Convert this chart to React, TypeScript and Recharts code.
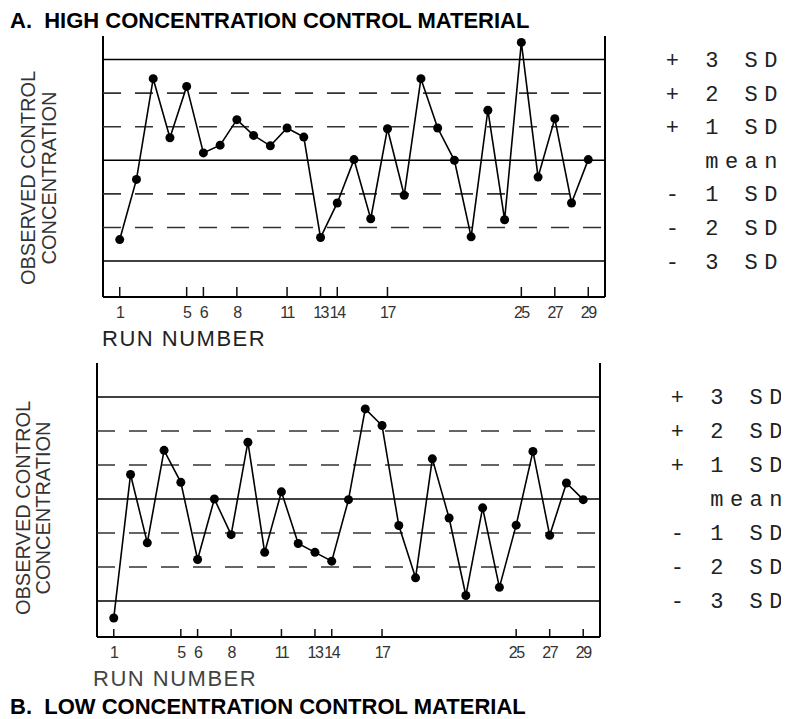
import React from 'react';
import { LineChart, Line, XAxis, YAxis, ReferenceLine } from 'recharts';

// run numbers and observed values (in SD units from the mean)
const runs = [1, 2, 3, 4, 5, 6, 7, 8, 9, 10, 11, 12, 13, 14, 15, 16, 17, 18, 19, 20, 21, 22, 23, 24, 25, 26, 27, 28, 29];
const highValues = [
  -2.36, -0.57, 2.43, 0.67, 2.2, 0.22, 0.45, 1.21, 0.74, 0.43, 0.96, 0.69, -2.3, -1.27, 0.02,
  -1.74, 0.94, -1.04, 2.43, 0.96, 0.0, -2.28, 1.49, -1.77, 3.51, -0.5, 1.24, -1.27, 0.02,
];
const lowValues = [
  -3.5, 0.72, -1.29, 1.43, 0.49, -1.78, 0.0, -1.05, 1.67, -1.57, 0.21, -1.31, -1.57, -1.83, -0.02,
  2.65, 2.16, -0.78, -2.32, 1.18, -0.56, -2.84, -0.26, -2.6, -0.77, 1.4, -1.07, 0.47, -0.02,
];
const tickRuns = [1, 5, 6, 8, 11, 13, 14, 17, 25, 27, 29];
const sdLevels = [3, 2, 1, 0, -1, -2, -3];
const sdLabels = ['+ 3 SD', '+ 2 SD', '+ 1 SD', 'mean', '- 1 SD', '- 2 SD', '- 3 SD'];

const SANS = "'Liberation Sans', Arial, sans-serif";

function RunTick(props: any) {
  const { x, y, payload, tickLen } = props;
  return (
    <g>
      <line x1={x} x2={x} y1={y - tickLen} y2={y} stroke="#111" strokeWidth={1.5} />
      <text
        x={x}
        y={y + 15}
        textAnchor="middle"
        dominantBaseline="central"
        fontFamily={SANS}
        fontSize={16}
        letterSpacing={-1.5}
        fill="#333"
      >
        {payload.value}
      </text>
    </g>
  );
}

function SdLabel(props: any) {
  const { viewBox, text, shift } = props;
  if (!viewBox) return null;
  return (
    <text
      x={viewBox.x + viewBox.width + shift}
      y={viewBox.y + 2}
      textAnchor="end"
      dominantBaseline="central"
      fontFamily="'Liberation Mono', 'DejaVu Sans Mono', monospace"
      fontSize={22}
      letterSpacing={6.5}
      fill="#222"
      style={{ whiteSpace: 'pre' }}
    >
      {text}
    </text>
  );
}

interface ControlChartProps {
  values: number[];
  height: number;
  margin: { top: number; right: number; bottom: number; left: number };
  yDomain: [number, number];
  title: string;
  titlePos: [number, number];
  runLabelPos: [number, number];
  runLabelColor: string;
  yLabelPos: [number, number, number];
  sdShift: number;
  tickLen: number;
}

function ControlChart(p: ControlChartProps) {
  const data = runs.map((run, i) => ({ run, value: p.values[i] }));
  const [lx1, lx2, ly] = p.yLabelPos;
  return (
    <LineChart width={781} height={p.height} data={data} margin={p.margin}>
      <XAxis
        dataKey="run"
        type="number"
        domain={[0, 30]}
        ticks={tickRuns}
        interval={0}
        height={30}
        tickSize={0}
        tickMargin={0}
        axisLine={{ stroke: '#000', strokeWidth: 2 }}
        tick={<RunTick tickLen={p.tickLen} />}
      />
      <YAxis hide width={0} type="number" domain={p.yDomain} allowDataOverflow />
      <ReferenceLine x={0} stroke="#000" strokeWidth={2} />
      <ReferenceLine x={30} stroke="#000" strokeWidth={2} />
      {sdLevels.map((sd, i) => (
        <ReferenceLine
          key={sd}
          y={sd}
          stroke={Math.abs(sd) === 3 || sd === 0 ? '#000' : '#333'}
          strokeWidth={1.6}
          strokeDasharray={Math.abs(sd) === 3 || sd === 0 ? undefined : '18 14'}
          label={<SdLabel text={sdLabels[i]} shift={p.sdShift} />}
        />
      ))}
      <Line
        dataKey="value"
        stroke="#000"
        strokeWidth={1.6}
        dot={{ r: 4.5, fill: '#000', stroke: '#000', strokeWidth: 0 }}
        isAnimationActive={false}
      />
      <text
        x={p.titlePos[0]}
        y={p.titlePos[1]}
        fontFamily={SANS}
        fontWeight="bold"
        fontSize={22}
        fill="#000"
        style={{ whiteSpace: 'pre' }}
      >
        {p.title}
      </text>
      <text
        x={p.runLabelPos[0]}
        y={p.runLabelPos[1]}
        fontFamily={SANS}
        fontSize={22}
        letterSpacing={1.5}
        fill={p.runLabelColor}
      >
        RUN NUMBER
      </text>
      <text
        x={lx1}
        y={ly}
        transform={`rotate(-90, ${lx1}, ${ly})`}
        textAnchor="middle"
        dominantBaseline="central"
        fontFamily={SANS}
        fontSize={20}
        fill="#333"
      >
        OBSERVED CONTROL
      </text>
      <text
        x={lx2}
        y={ly}
        transform={`rotate(-90, ${lx2}, ${ly})`}
        textAnchor="middle"
        dominantBaseline="central"
        fontFamily={SANS}
        fontSize={20}
        fill="#333"
      >
        CONCENTRATION
      </text>
    </LineChart>
  );
}

export default function App() {
  return (
    <div style={{ width: 781, background: '#fff' }}>
      <ControlChart
        values={highValues}
        height={350}
        margin={{ top: 28, right: 184, bottom: 31, left: 95 }}
        yDomain={[-4.07, 3.7]}
        title="A.  HIGH CONCENTRATION CONTROL MATERIAL"
        titlePos={[2, 20]}
        runLabelPos={[94, 338]}
        runLabelColor="#222"
        yLabelPos={[20, 41, 170]}
        sdShift={179}
        tickLen={10}
      />
      <ControlChart
        values={lowValues}
        height={361}
        margin={{ top: 5, right: 189, bottom: 52, left: 89 }}
        yDomain={[-4.06, 4.0]}
        title="B.  LOW CONCENTRATION CONTROL MATERIAL"
        titlePos={[2, 356]}
        runLabelPos={[85, 328]}
        runLabelColor="#444"
        yLabelPos={[15, 35, 150]}
        sdShift={189}
        tickLen={8}
      />
    </div>
  );
}
